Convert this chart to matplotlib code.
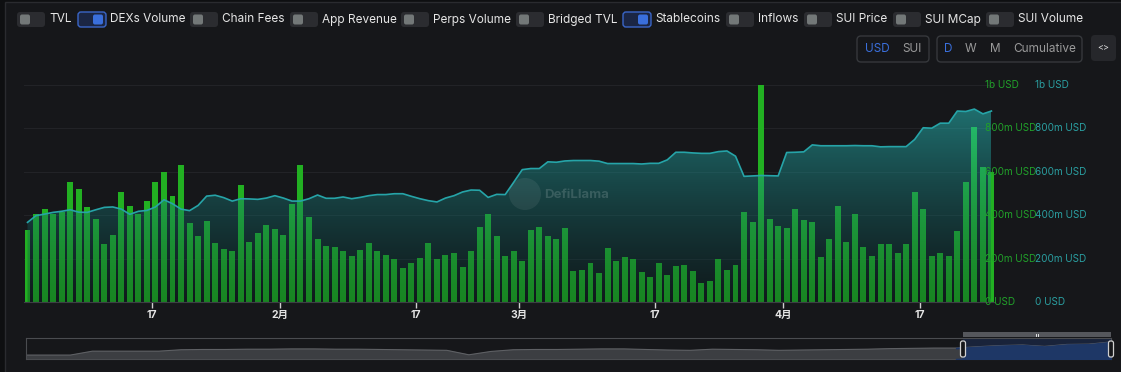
import matplotlib
matplotlib.use("Agg")
import matplotlib.pyplot as plt
import matplotlib.dates as mdates
from matplotlib.patches import FancyBboxPatch, Polygon, Circle, Rectangle
import numpy as np
import pandas as pd

plt.rcParams['font.family'] = ['Inter', 'Noto Sans CJK SC', 'DejaVu Sans']

# daily values, 2025-01-02 .. 2025-04-25 (million USD)
start_date = "2025-01-02"
dex_volume = [330, 407, 427, 405, 414, 552, 522, 438, 381, 265, 307, 508, 444, 407, 464,
              553, 601, 487, 632, 364, 304, 373, 270, 243, 236, 539, 277, 320, 353, 337,
              308, 450, 632, 394, 290, 257, 254, 236, 211, 239, 270, 233, 216, 199, 156,
              180, 202, 270, 199, 217, 225, 162, 236, 344, 405, 305, 214, 237, 190, 331,
              344, 304, 291, 341, 143, 149, 179, 134, 248, 191, 206, 200, 136, 116, 179,
              125, 166, 171, 143, 89, 96, 196, 148, 169, 416, 368, 1000, 384, 351, 339,
              428, 376, 367, 208, 290, 442, 277, 404, 254, 210, 265, 268, 227, 268, 507,
              430, 214, 225, 214, 327, 553, 806, 622, 600]
stablecoins = [367, 398, 405, 413, 418, 425, 414, 413, 425, 436, 438, 428, 404, 418, 422,
               438, 471, 453, 428, 421, 445, 488, 492, 481, 465, 476, 475, 473, 479, 490,
               479, 465, 465, 476, 493, 478, 478, 484, 476, 482, 490, 495, 495, 499, 499,
               487, 476, 467, 461, 479, 490, 507, 516, 515, 482, 496, 495, 552, 610, 615,
               615, 646, 644, 650, 652, 652, 652, 649, 638, 638, 638, 638, 636, 639, 639,
               655, 690, 690, 687, 685, 685, 693, 696, 672, 579, 581, 583, 582, 581, 689,
               690, 692, 724, 720, 720, 720, 720, 721, 720, 720, 715, 716, 716, 716, 749,
               803, 801, 824, 824, 880, 878, 889, 867, 880]

tick_dates = ["2025-01-17", "2025-02-01", "2025-02-17", "2025-03-01",
              "2025-03-17", "2025-04-01", "2025-04-17"]
tick_labels = ["17", "2月", "17", "3月", "17", "4月", "17"]
y_ticks = [0, 200, 400, 600, 800, 1000]
y_labels = ["0 USD", "200m USD", "400m USD", "600m USD", "800m USD", "1b USD"]

toggle_names = ["TVL", "DEXs Volume", "Chain Fees", "App Revenue", "Perps Volume",
                "Bridged TVL", "Stablecoins", "Inflows", "SUI Price", "SUI MCap", "SUI Volume"]
toggle_on = [False, True, False, False, False, False, True, False, False, False, False]

# overview strip (relative heights)
overview = [12, 12, 12, 26, 26, 26, 26, 31, 32, 32, 33, 33, 34, 34, 33, 33, 32, 31, 30, 29,
            13, 25, 31, 32, 32, 33, 34, 34, 32, 30, 29, 33, 32, 31, 29, 30, 31, 32, 33, 35,
            36, 37, 37, 42, 46, 48, 43, 50, 51, 59]
overview_sel = 42.3

BG = '#16171a'
W, H = 1121, 372
fig = plt.figure(figsize=(W / 100, H / 100), dpi=100, facecolor='#0e0f11')

ui = fig.add_axes([0, 0, 1, 1], zorder=0)
ui.set_xlim(0, W)
ui.set_ylim(H, 0)
ui.axis('off')
ui.add_patch(Rectangle((5, 2), W, H, facecolor=BG, edgecolor='#2a2b2f', lw=1))

# toggles row
toggle_x = [17, 78, 190, 290, 401, 516, 623, 726, 804, 893, 986]
for name, on, tx in zip(toggle_names, toggle_on, toggle_x):
    if on:
        ui.add_patch(FancyBboxPatch((tx, 12), 28, 15, boxstyle="round,pad=0,rounding_size=3",
                                    facecolor='#1b2644', edgecolor='#3a66c8', lw=1))
        ui.add_patch(FancyBboxPatch((tx + 15, 14.5), 10, 10, boxstyle="round,pad=0,rounding_size=2",
                                    facecolor='#3a6fdc', edgecolor='none'))
    else:
        ui.add_patch(FancyBboxPatch((tx, 12), 28, 15, boxstyle="round,pad=0,rounding_size=3",
                                    facecolor='#2b2c30', edgecolor='none'))
        ui.add_patch(FancyBboxPatch((tx + 3, 14.5), 10, 10, boxstyle="round,pad=0,rounding_size=2",
                                    facecolor='#737878', edgecolor='none'))
    ui.text(tx + 32, 19.5, name, color='#e6e6e6', fontsize=8.5, va='center', ha='left')

# unit / period buttons
ui.add_patch(FancyBboxPatch((857, 36), 72, 26, boxstyle="round,pad=0,rounding_size=4",
                            facecolor='none', edgecolor='#36383c', lw=1))
ui.text(877, 49, "USD", color='#3a6fdc', fontsize=8.5, va='center', ha='center')
ui.text(912, 49, "SUI", color='#9a9a9a', fontsize=8.5, va='center', ha='center')
ui.add_patch(FancyBboxPatch((937, 36), 145, 26, boxstyle="round,pad=0,rounding_size=4",
                            facecolor='none', edgecolor='#36383c', lw=1))
for lbl, cx, col in [("D", 948, '#3a6fdc'), ("W", 971, '#9a9a9a'), ("M", 995, '#9a9a9a'),
                     ("Cumulative", 1045, '#9a9a9a')]:
    ui.text(cx, 49, lbl, color=col, fontsize=8.5, va='center', ha='center')
ui.add_patch(FancyBboxPatch((1091, 35), 25, 26, boxstyle="round,pad=0,rounding_size=4",
                            facecolor='#26272b', edgecolor='none'))
ui.text(1103.5, 48, "<>", color='#d8d8d8', fontsize=6.5, va='center', ha='center')

# main chart
x = mdates.date2num(pd.date_range(start_date, periods=len(dex_volume), freq="D")) + 0.43
x0 = mdates.date2num(pd.Timestamp(start_date))
ax = fig.add_axes([24 / W, 70 / H, 971 / W, 217 / H], zorder=1)
ax.set_facecolor('none')

ax.bar(x, dex_volume, width=0.7, color='#22b022', zorder=2)

top = max(stablecoins)
verts = list(zip(x, stablecoins)) + [(x[-1], 0), (x[0], 0)]
poly = Polygon(verts, closed=True, facecolor='none', edgecolor='none')
ax.add_patch(poly)
t = np.linspace(0, 1, 256)[:, None]
c0 = np.array([2, 33, 33]) / 255
c1 = np.array([42, 210, 206]) / 255
rgba = np.zeros((256, 1, 4))
rgba[:, 0, :3] = c0 + (c1 - c0) * t
rgba[:, 0, 3] = 0.30 + 0.17 * t[:, 0]
im = ax.imshow(rgba, extent=(x[0], x[-1], 0, top), origin='lower', aspect='auto',
               zorder=3, interpolation='bilinear')
im.set_clip_path(poly)
ax.plot(x, stablecoins, color='#26a4a8', lw=1.2, zorder=4)

ax.set_xlim(x0 + 0.02, x0 + 113.85)
ax.set_ylim(0, 1000)
ax.set_yticks(y_ticks)
ax.yaxis.grid(True, color='#222327', lw=0.8)
ax.set_axisbelow(True)
ax.tick_params(axis='y', length=0, labelleft=False)
ax.set_xticks(mdates.date2num(pd.to_datetime(tick_dates)))
ax.set_xticklabels(tick_labels, color='#e5e5e5', fontsize=7.5, fontweight='bold')
ax.tick_params(axis='x', length=4, width=1, color='#cfcfcf', pad=2)
for s in ['top', 'left', 'right']:
    ax.spines[s].set_visible(False)
ax.spines['bottom'].set_color('#3d3f44')

for v, lbl in zip(y_ticks, y_labels):
    ax.text(0.9897, v, lbl, transform=ax.get_yaxis_transform(), color='#21a02a',
            fontsize=7.2, va='center', ha='left', clip_on=False, zorder=6)
    ax.text(1.0412, v, lbl, transform=ax.get_yaxis_transform(), color='#2a9ea0',
            fontsize=7.2, va='center', ha='left', clip_on=False, zorder=6)

# watermark
ax.add_patch(Circle((525, 194), 16, transform=ui.transData, facecolor='white',
                    alpha=0.07, edgecolor='none', zorder=5))
ax.text(577, 195, "DefiLlama", transform=ui.transData, color='white', alpha=0.15,
        fontsize=9.5, fontweight='bold', va='center', ha='center', zorder=5)

# overview strip
mini = fig.add_axes([26 / W, (H - 359) / H, 1085 / W, 21 / H], zorder=1)
mini.set_facecolor('none')
idx = np.arange(len(overview))
ov = np.array(overview)
mini.axvspan(overview_sel, len(overview) - 1, color='#19233a', zorder=0)
mini.fill_between(idx, ov, -2, color='#3c3e42', zorder=1)
mini.plot(idx, ov, color='#5e6064', lw=0.8, zorder=2)
sel = idx >= 42
xs = np.concatenate([[overview_sel], idx[sel]])
ys = np.concatenate([[np.interp(overview_sel, idx, ov)], ov[sel]])
mini.fill_between(xs, ys, -2, color='#1e3766', zorder=3)
mini.set_xlim(0, len(overview) - 1)
mini.set_ylim(-2, 73)
mini.set_xticks([])
mini.set_yticks([])
for s in mini.spines.values():
    s.set_color('#4a4c50')
    s.set_linewidth(0.8)

ui2 = fig.add_axes([0, 0, 1, 1], zorder=2)
ui2.set_xlim(0, W)
ui2.set_ylim(H, 0)
ui2.axis('off')
ui2.add_patch(Rectangle((963, 332), 148, 5, facecolor='#55575c', edgecolor='none'))
ui2.plot([1035.5, 1035.5], [333.5, 335.5], color='white', lw=0.6)
ui2.plot([1037.5, 1037.5], [333.5, 335.5], color='white', lw=0.6)
for hx in [963, 1111]:
    ui2.add_patch(FancyBboxPatch((hx - 2.5, 341), 5, 16, boxstyle="round,pad=0,rounding_size=2",
                                 facecolor=BG, edgecolor='#d0d0d0', lw=0.9))

fig.savefig("out.png", dpi=100, facecolor=fig.get_facecolor())
